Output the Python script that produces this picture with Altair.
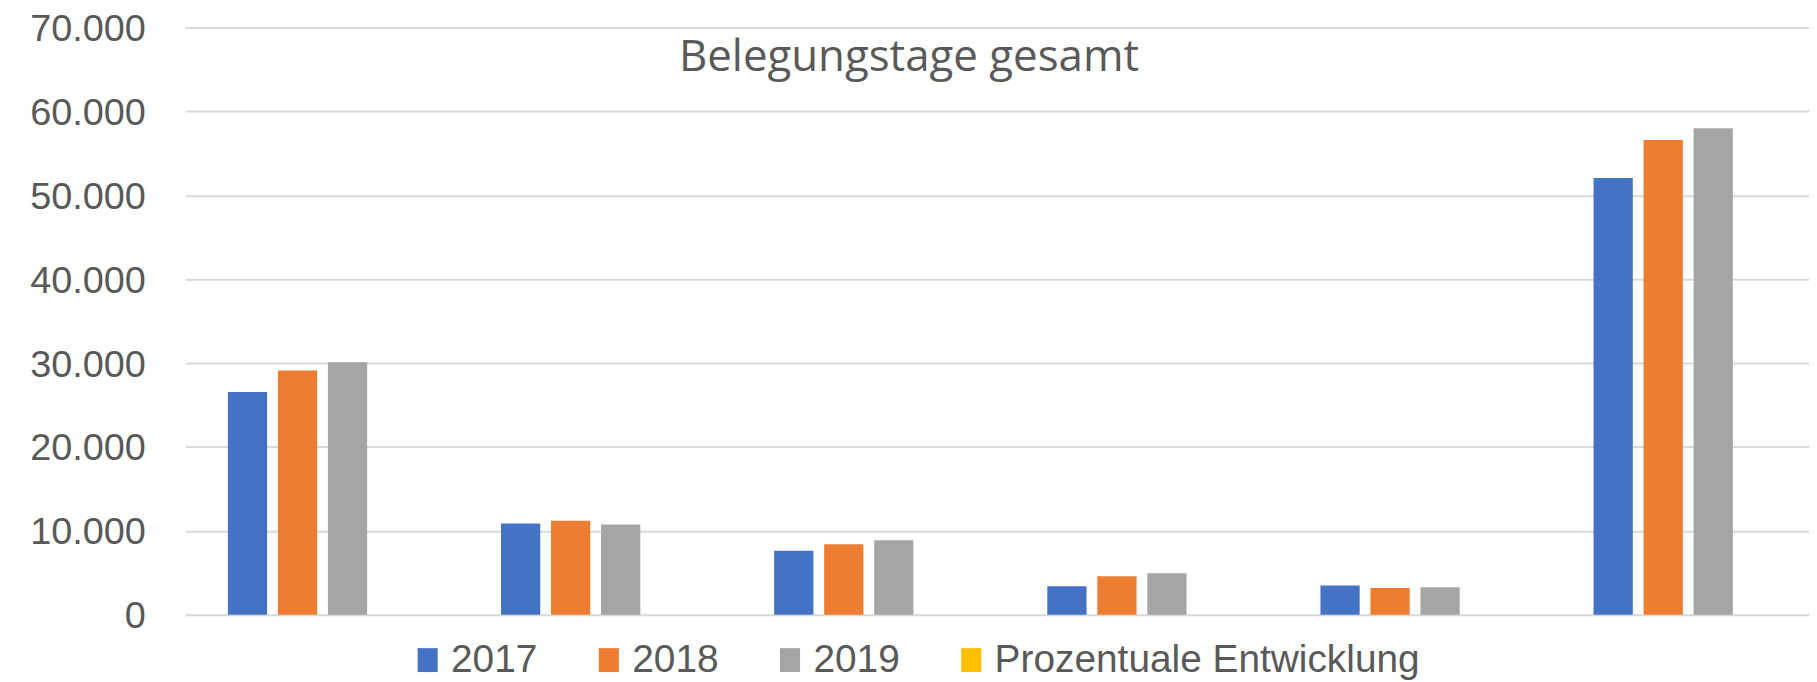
import altair as alt
import pandas as pd

categories = ["Bereich 1", "Bereich 2", "Bereich 3", "Bereich 4", "Bereich 5", "Gesamt"]
series = ["2017", "2018", "2019", "Prozentuale Entwicklung"]
values_2017 = [26540, 10880, 7620, 3410, 3490, 52040]
values_2018 = [29110, 11200, 8410, 4600, 3180, 56570]
values_2019 = [30100, 10760, 8890, 4960, 3290, 57970]
values_pct = [0, 0, 0, 0, 0, 0]
colors = ["#4472C4", "#ED7D31", "#A5A5A5", "#FFC000"]
y_ticks = [0, 10000, 20000, 30000, 40000, 50000, 60000, 70000]
chart_title = "Belegungstage gesamt"

rows = []
for s, vals in zip(series, [values_2017, values_2018, values_2019, values_pct]):
    for c, v in zip(categories, vals):
        rows.append({"Kategorie": c, "Serie": s, "Wert": v})
df = pd.DataFrame(rows)

bars = alt.Chart(df).mark_bar().encode(
    x=alt.X("Kategorie:N", sort=categories, axis=None,
            scale=alt.Scale(paddingInner=0.307, paddingOuter=0.126, align=0.62)),
    xOffset=alt.XOffset("Serie:N", sort=series,
                        scale=alt.Scale(paddingInner=0.2156, paddingOuter=0)),
    y=alt.Y("Wert:Q", scale=alt.Scale(domain=[0, 70000], nice=False),
            axis=alt.Axis(values=y_ticks, title=None, domain=False, ticks=False,
                          grid=True, gridColor="#d9d9d9", gridWidth=2,
                          labelFont="Liberation Sans", labelFontSize=38,
                          labelColor="#595959", labelPadding=40,
                          labelBaseline="alphabetic", labelOffset=13,
                          labelExpr="replace(format(datum.value, ',d'), ',', '.')")),
    color=alt.Color("Serie:N", sort=series,
                    scale=alt.Scale(domain=series, range=colors),
                    legend=alt.Legend(title=None, orient="none", direction="horizontal",
                                      legendX=224, legendY=616, padding=0,
                                      gridAlign="none", labelLimit=1000,
                                      symbolType="M-0.84,-1H0.84V1H-0.84Z",
                                      symbolSize=576,
                                      symbolStrokeWidth=0,
                                      labelFont="Liberation Sans", labelFontSize=39,
                                      labelColor="#595959", labelOffset=4,
                                      columnPadding=52)),
)

title_df = pd.DataFrame({"t": [chart_title]})
title_text = alt.Chart(title_df).mark_text(
    font="Open Sans", fontSize=44, color="#595959", align="center", baseline="alphabetic"
).encode(text="t:N", x=alt.value(727), y=alt.value(44))

chart = alt.layer(bars, title_text).properties(
    width=1631, height=590,
    autosize=alt.AutoSizeParams(type="none"),
    padding={"left": 178, "top": 18, "right": 0, "bottom": 66},
).configure_view(stroke=None)

chart.save("out.html", embed_options={"renderer": "svg", "actions": False})
